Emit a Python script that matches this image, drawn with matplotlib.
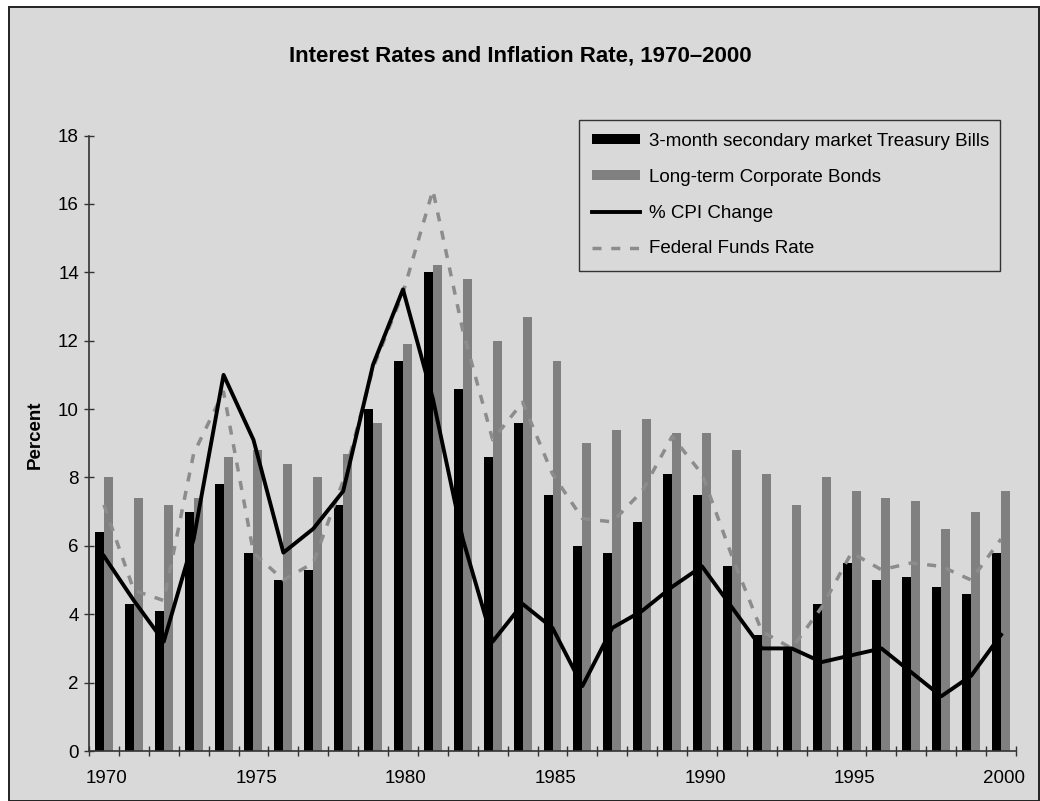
import matplotlib
matplotlib.use('Agg')
import matplotlib.pyplot as plt
from matplotlib.patches import Rectangle
import numpy as np

plt.rcParams['font.family'] = ['Liberation Sans', 'DejaVu Sans']

# Data
years = list(range(1970, 2001))
tbills = [6.4, 4.3, 4.1, 7.0, 7.8, 5.8, 5.0, 5.3, 7.2, 10.0, 11.4, 14.0, 10.6, 8.6, 9.6,
          7.5, 6.0, 5.8, 6.7, 8.1, 7.5, 5.4, 3.4, 3.0, 4.3, 5.5, 5.0, 5.1, 4.8, 4.6, 5.8]
corp_bonds = [8.0, 7.4, 7.2, 7.4, 8.6, 8.8, 8.4, 8.0, 8.7, 9.6, 11.9, 14.2, 13.8, 12.0, 12.7,
              11.4, 9.0, 9.4, 9.7, 9.3, 9.3, 8.8, 8.1, 7.2, 8.0, 7.6, 7.4, 7.3, 6.5, 7.0, 7.6]
cpi_change = [5.7, 4.4, 3.2, 6.2, 11.0, 9.1, 5.8, 6.5, 7.6, 11.3, 13.5, 10.3, 6.2, 3.2, 4.3,
              3.6, 1.9, 3.6, 4.1, 4.8, 5.4, 4.2, 3.0, 3.0, 2.6, 2.8, 3.0, 2.3, 1.6, 2.2, 3.4]
fed_funds = [7.2, 4.7, 4.4, 8.7, 10.5, 5.8, 5.0, 5.5, 7.9, 11.2, 13.4, 16.4, 12.3, 9.1, 10.2,
             8.1, 6.8, 6.7, 7.6, 9.2, 8.1, 5.7, 3.5, 3.0, 4.2, 5.8, 5.3, 5.5, 5.4, 5.0, 6.2]
label_years = [1970, 1975, 1980, 1985, 1990, 1995, 2000]

BG = '#d9d9d9'
W, H = 1040, 801

fig = plt.figure(figsize=(W / 100, H / 100), dpi=100, facecolor='white')
# grey chart area with a thin frame
fig.patches.append(Rectangle((9 / W, 0), 1 - 10 / W, 1 - 7 / H, transform=fig.transFigure,
                             facecolor=BG, edgecolor='#222222', linewidth=1.4, zorder=-10))

ax = fig.add_axes([89 / W, 1 - 751 / H, (1016 - 89) / W, (751 - 135.5) / H])
ax.set_facecolor(BG)

x = np.arange(len(years))
bw = 0.3
b1 = ax.bar(x - bw / 2, tbills, width=bw, color='black', zorder=2)
b2 = ax.bar(x + bw / 2, corp_bonds, width=bw, color='#808080', zorder=2)
l1, = ax.plot(x, cpi_change, color='black', linewidth=2.8, zorder=4)
l2, = ax.plot(x, fed_funds, color='#8c8c8c', linewidth=2.5, linestyle=(0, (2.6, 2.8)), zorder=3)

ax.set_xlim(-0.5, len(years) - 0.5)
ax.set_ylim(0, 18)
ax.set_yticks(range(0, 19, 2))

# ticks on category boundaries, labels at category centres
ax.set_xticks(np.arange(len(years) + 1) - 0.5)
ax.set_xticklabels([])
ax.set_xticks([years.index(y) + 0.1 for y in label_years], minor=True)
ax.set_xticklabels([str(y) for y in label_years], minor=True)
ax.tick_params(axis='x', which='major', direction='inout', length=7, width=1, color='#333333')
ax.tick_params(axis='x', which='minor', length=0, pad=14, labelsize=13.5)
ax.tick_params(axis='y', direction='inout', length=6.5, width=1, color='#333333', pad=4, labelsize=13.5)

for side in ['top', 'right']:
    ax.spines[side].set_visible(False)
for side in ['left', 'bottom']:
    ax.spines[side].set_color('#333333')
    ax.spines[side].set_linewidth(1.2)

ax.set_ylabel('Percent', fontsize=13.5, fontweight='bold')
ax.yaxis.set_label_coords(-(89 - 44) / (1016 - 89), (751 - 435) / (751 - 135.5))

fig.text(0.5, 1 - 56 / H, 'Interest Rates and Inflation Rate, 1970\u20132000',
         ha='center', va='center', fontsize=16, fontweight='bold')

leg = ax.legend([b1, b2, l1, l2],
                ['3-month secondary market Treasury Bills', 'Long-term Corporate Bonds',
                 '% CPI Change', 'Federal Funds Rate'],
                loc='upper left', bbox_to_anchor=(579 / W, 1 - 120 / H, (1000 - 579) / W, 0),
                bbox_transform=fig.transFigure, mode='expand', borderaxespad=0,
                fontsize=13.5, frameon=True, fancybox=False, facecolor=BG, framealpha=1,
                edgecolor='#333333', handlelength=2.55, handletextpad=0.5, handleheight=0.45,
                labelspacing=1.0, borderpad=0.7)
leg.get_frame().set_linewidth(1.0)

fig.savefig('out.png', dpi=100, facecolor=fig.get_facecolor())
